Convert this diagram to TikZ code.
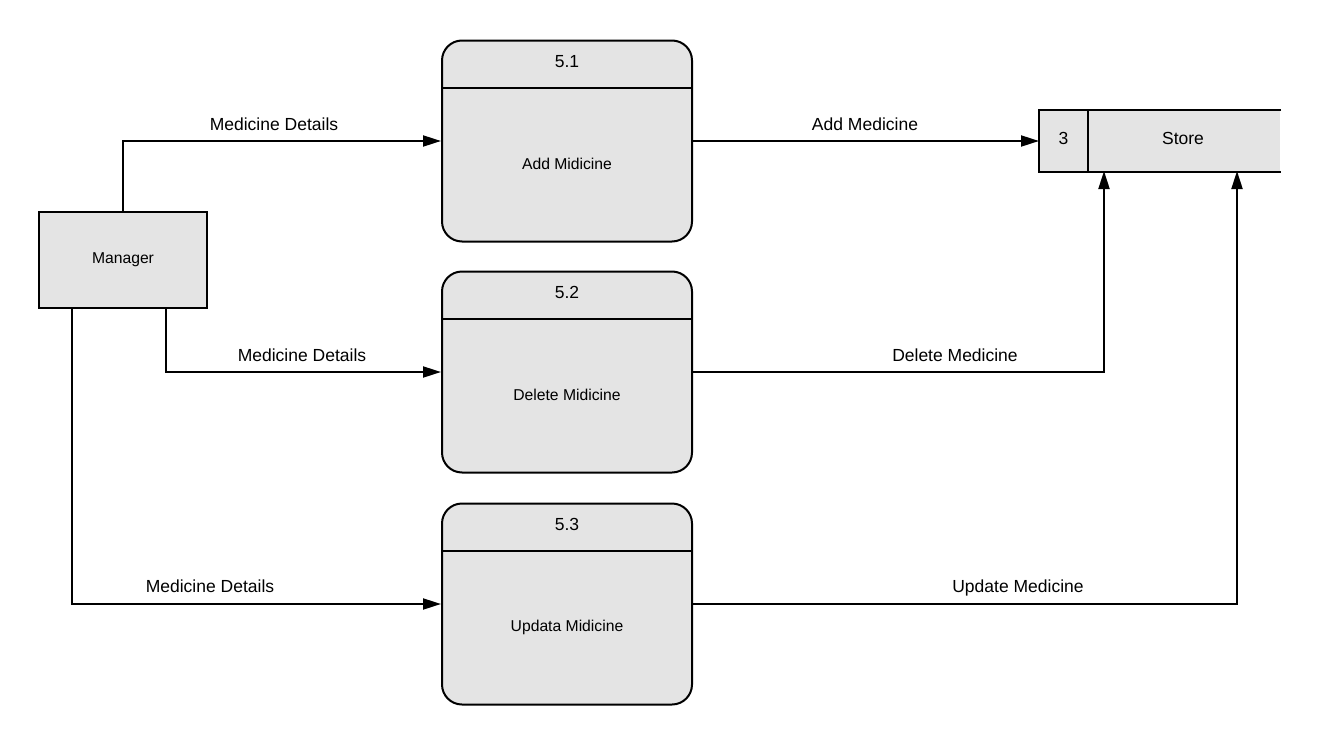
\documentclass[tikz,border=0pt]{standalone}
\usepackage{fontspec}
\setmainfont{Liberation Sans}
\usetikzlibrary{arrows.meta}
\definecolor{boxfill}{HTML}{E4E4E4}
\begin{document}
\begin{tikzpicture}[x=1pt,y=-1pt,
  line width=2pt,
  flow/.style={-{Triangle[length=18pt,width=11pt]}},
  procbox/.style={draw, fill=boxfill, rounded corners=20pt, minimum width=250pt, minimum height=201pt, inner sep=0pt},
  entity/.style={draw, fill=boxfill, minimum width=168pt, minimum height=96pt, inner sep=0pt, font=\fontsize{15.7}{19}\selectfont},
  flowlabel/.style={font=\fontsize{17.5}{21}\selectfont, inner sep=0pt, anchor=base},
  numlabel/.style={font=\fontsize{17.5}{21}\selectfont, inner sep=0pt},
  bodylabel/.style={font=\fontsize{15.7}{19}\selectfont, inner sep=0pt}
]
\useasboundingbox[fill=white] (0,0) rectangle (1320,744);

% processes
\foreach \n/\y/\num/\txt in {p1/141/5.1/Add Midicine, p2/372/5.2/Delete Midicine, p3/604/5.3/Updata Midicine}{
  \node[procbox] (\n) at (567,\y) {};
  \draw ([yshift=-48pt]\n.north west) -- ([yshift=-48pt]\n.north east);
  \node[numlabel] (\n num) at ([yshift=-22pt]\n.north) {\num};
  \node[bodylabel] (\n txt) at ([yshift=-23pt]\n.center) {\txt};
}

% external entity
\node[entity] (m) at (123,260) {Manager};

% data store (open on the right)
\node[fill=boxfill, minimum width=240pt, minimum height=60pt, inner sep=0pt, anchor=west] (store) at (1039,141) {};
\draw (store.north east) -- (store.north west) -- (store.south west) -- (store.south east);
\draw (1088,111) -- (1088,171);
\node[numlabel] (sid) at (1063.5,138) {3};
\node[numlabel] (sname) at (1183,138) {Store};
\coordinate (sin2) at (1104,171);
\coordinate (sin3) at (1237,171);

% flows
\draw[flow] (m.north) |- (p1.west);
\draw[flow] ([xshift=43pt]m.south) |- (p2.west);
\draw[flow] ([xshift=-51pt]m.south) |- (p3.west);
\draw[flow] (p1.east) -- (store.west);
\draw[flow] (p2.east) -| (sin2);
\draw[flow] (p3.east) -| (sin3);

% flow labels (baseline placed above each line)
\node[flowlabel] (l1) at (274,130) {Medicine Details};
\node[flowlabel] (l2) at (302,361) {Medicine Details};
\node[flowlabel] (l3) at (210,592) {Medicine Details};
\node[flowlabel] (l4) at (865,130) {Add Medicine};
\node[flowlabel] (l5) at (955,361) {Delete Medicine};
\node[flowlabel] (l6) at (1018,592) {Update Medicine};
\end{tikzpicture}
\end{document}
